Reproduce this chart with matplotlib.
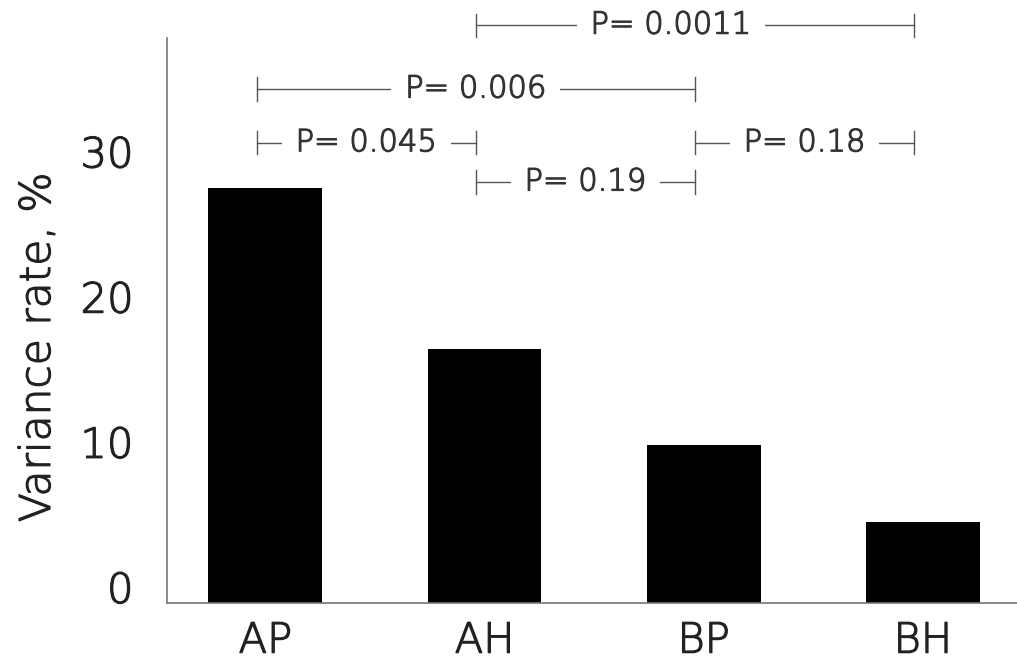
import matplotlib
matplotlib.use("Agg")
import matplotlib.pyplot as plt
import matplotlib.patheffects as pe

plt.rcParams['font.family'] = ['DejaVu Sans']
plt.rcParams['font.weight'] = 'light'
plt.rcParams['axes.labelweight'] = 'light'

# data
groups = ["AP", "AH", "BP", "BH"]
rates = [28.6, 17.5, 10.9, 5.6]
yticks = [0, 10, 20, 30]

# comparisons: (from group, to group, label)
pairs = [(1, 3), (0, 2), (0, 1), (2, 3), (1, 2)]
p_labels = ["P= 0.0011", "P= 0.006", "P= 0.045", "P= 0.18", "P= 0.19"]
bracket_y = [39.8, 35.4, 31.7, 31.7, 29.0]
text_shift = [-0.11, 0, 0, 0, 0]   # top label sits a bit left of centre

# thicken the extra-light glyphs a bit
def fx(c):
    return [pe.withStroke(linewidth=0.9, foreground=c)]

txt = "#222222"

fig = plt.figure(figsize=(10.17, 6.59), dpi=100)
ax = fig.add_axes([0.164, 0.085, 0.836, 0.857])

x = list(range(len(groups)))
ax.bar(x, rates, width=0.52, color="black")

ax.set_xlim(-0.45, 3.43)
ax.set_ylim(0, 38.9)
ax.set_yticks(yticks)
ax.set_xticks(x)
ax.set_xticklabels(groups, fontsize=30, color=txt)
ax.set_yticklabels([str(t) for t in yticks], fontsize=30, color=txt)
plt.setp(ax.get_yticklabels(), va="baseline")
for t in ax.get_xticklabels() + ax.get_yticklabels():
    t.set_path_effects(fx(txt))
ax.tick_params(axis="y", length=0, pad=24)
ax.tick_params(axis="x", length=0, pad=12)
yl = ax.set_ylabel("Variance rate, %", fontsize=30.5, color=txt)
yl.set_path_effects(fx(txt))
ax.yaxis.set_label_coords(-0.128, 0.453)

for s in ["top", "right"]:
    ax.spines[s].set_visible(False)
for s in ["left", "bottom"]:
    ax.spines[s].set_color("#777777")
    ax.spines[s].set_linewidth(1.2)

cap = 0.8
for (a, b), lab, yy, dx in zip(pairs, p_labels, bracket_y, text_shift):
    x1, x2 = a - 0.04, b - 0.04
    ax.plot([x1, x2], [yy, yy], color="#555555", lw=1, clip_on=False)
    ax.plot([x1, x1], [yy - cap, yy + cap], color="#555555", lw=1, clip_on=False)
    ax.plot([x2, x2], [yy - cap, yy + cap], color="#555555", lw=1, clip_on=False)
    t = ax.text((x1 + x2) / 2 + dx, yy, lab, fontsize=22, color="#333333",
                ha="center", va="center", clip_on=False,
                bbox=dict(facecolor="white", edgecolor="none", pad=10))
    t.set_path_effects(fx("#333333"))

fig.savefig("out.png", dpi=100)
